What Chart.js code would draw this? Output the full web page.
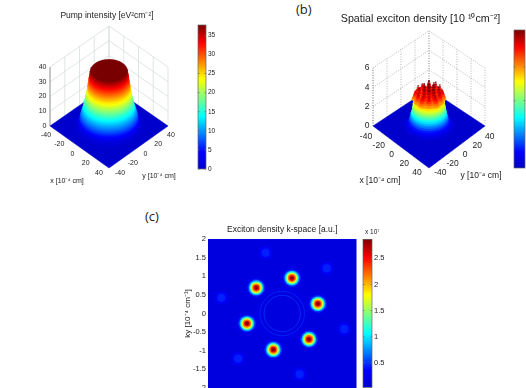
<!DOCTYPE html>
<html>
<head>
<meta charset="utf-8">
<script src="https://cdn.jsdelivr.net/npm/chart.js@4"></script>
<style>
html, body { margin: 0; width: 526px; height: 388px; overflow: hidden; background: #fff; }
canvas { position: absolute; filter: blur(0.4px); }
.tag { position: absolute; font: 13px "Open Sans", sans-serif; color: #222; }
</style>
</head>
<body>
<div class="tag" style="left:296px;top:0px">(b)</div>
<div class="tag" style="left:145px;top:207px">(c)</div>
<script>
const FONT = '"Liberation Sans", sans-serif';

// pump intensity, rings of the flat top beam
const pumpHeight = [0.4, 1, 2, 3, 4, 5, 6, 7, 8, 9, 10, 11, 12, 13, 14, 15, 16, 17, 18, 19, 20, 21, 22, 23, 24, 25, 26, 27, 28, 29, 30, 31, 32, 33, 34, 35, 36, 37, 37.7];
const pumpRadius = [33, 31, 29.5, 29, 28.5, 28.1, 27.7, 27.4, 27, 26.5, 26, 25.5, 25, 24.6, 24.2, 23.7, 23.3, 23, 22.6, 22.3, 22, 21.7, 21.4, 21.1, 20.9, 20.6, 20.4, 20.2, 20, 19.7, 19.4, 19.2, 19, 18.7, 18.5, 18.3, 18, 17.7, 17.3];
const pumpBarTicks = [0, 5, 10, 15, 20, 25, 30, 35];

// exciton density, rings of the hill and the spikes on top of it
const hillHeight = [0.03, 0.08, 0.15, 0.25, 0.35, 0.5, 0.7, 0.9, 1.1, 1.3, 1.5, 1.7, 1.9, 2.1, 2.3, 2.5, 2.7, 2.9, 3.1, 3.3];
const hillRadius = [26, 25, 24, 22.5, 21.5, 20.5, 19.7, 19, 18.4, 17.9, 17.4, 17, 16.6, 16.3, 16, 15.7, 15.4, 15.2, 15, 14.8];
const spikeX = [0, 5.3, 1.4, -3.9, -5.3, -1.4, 3.9, 12.1, 3.2, -8.8, -12.1, -3.2, 8.8, 6.8, -2.5, -9.3, -6.8, 2.5, 9.3, 9.5, -3.5, -13, -9.5, 3.5, 13];
const spikeY = [0, 1.4, 5.3, 3.9, -1.4, -5.3, -3.9, 3.2, 12.1, 8.8, -3.2, -12.1, -8.8, 6.8, 9.3, 2.5, -6.8, -9.3, -2.5, 9.5, 13, 3.5, -9.5, -13, -3.5];
const spikeTop = [4.3, 4.2, 4.1, 4.3, 4.1, 4, 4.2, 3.8, 3.9, 4, 3.8, 3.7, 3.8, 4, 4, 3.9, 3.9, 3.8, 3.9, 3.7, 3.9, 3.7, 3.6, 3.7, 3.8];
const spikeStep = [0, 0.2, 0.4, 0.6, 0.8, 1];
const spikeWidth = [3.8, 3.1, 2.5, 1.9, 1.3, 0.7];

// k-space spots
const mainKx = [0.26, -0.7, 0.96, -0.95, 0.72, -0.24];
const mainKy = [0.95, 0.69, 0.26, -0.27, -0.69, -0.97];
const weakKx = [-0.45, 1.2, -1.64, 1.67, -1.19, 0.47];
const weakKy = [1.63, 1.21, 0.42, -0.42, -1.21, -1.63];
const mainValue = [0.05, 0.15, 0.3, 0.45, 0.6, 0.75, 0.9, 1];
const mainSize = [0.32, 0.24, 0.2, 0.17, 0.14, 0.11, 0.075, 0.04];
const weakValue = [0.06, 0.1, 0.14];
const weakSize = [0.2, 0.16, 0.11];
const ringSize = [0.49, 0.6, 0.68];
const ringValue = [0.15, 0.14, 0.09];
const kTicks = [-2, -1.5, -1, -0.5, 0, 0.5, 1, 1.5, 2];
const kBarTicks = [0.5, 1, 1.5, 2, 2.5];

const xyTicks = [-40, -20, 0, 20, 40];
const pumpZTicks = [0, 10, 20, 30, 40];
const densityZTicks = [0, 2, 4, 6];

const jetStops = [[0, 0, 0, 205], [0.11, 0, 0, 255], [0.36, 0, 255, 255], [0.62, 255, 255, 0], [0.87, 255, 0, 0], [1, 120, 0, 0]];
function jet(v) {
  v = Math.max(0, Math.min(1, v));
  let i = 0;
  while (i < jetStops.length - 2 && v > jetStops[i + 1][0]) i++;
  const a = jetStops[i], b = jetStops[i + 1], t = (v - a[0]) / (b[0] - a[0]);
  const c = [1, 2, 3].map(k => Math.round(a[k] + (b[k] - a[k]) * t));
  return `rgb(${c[0]},${c[1]},${c[2]})`;
}

function addCanvas(left, top, w, h) {
  const c = document.createElement('canvas');
  c.width = w;
  c.height = h;
  c.style.left = left + 'px';
  c.style.top = top + 'px';
  document.body.appendChild(c);
  return c;
}

// round disk in the data plane, as a closed outline
const circleSteps = [...Array(41).keys()].map(i => i / 40 * 2 * Math.PI);

function surfaceChart(p) {
  const project = (x, y, z, squash = 1) => {
    const d = (x - y) / 80;
    return {
      x: p.cx + (x + y) / 80 * p.halfW,
      y: p.floorY + d * (d > 0 ? p.front : p.back) * squash - z * p.zScale
    };
  };
  const shapes = [];
  const wall = (pts, color) => shapes.push({ data: pts, borderColor: color, borderWidth: p.gridWidth, borderDash: p.dash, fill: false });
  const disk = (x0, y0, r, z, color) => shapes.push({
    data: circleSteps.map(a => project(x0 + r * Math.cos(a), y0 + r * Math.sin(a), z, p.squash)),
    borderColor: color, backgroundColor: color, borderWidth: 0.6, fill: 'shape'
  });

  xyTicks.forEach(t => {
    wall([project(-40, t, 0), project(-40, t, p.zMax)], p.gridColor);
    wall([project(t, 40, 0), project(t, 40, p.zMax)], p.gridColor);
  });
  p.zTicks.forEach(t => wall([project(-40, -40, t), project(-40, 40, t), project(40, 40, t)], p.gridColor));
  wall([project(-40, -40, 0), project(-40, -40, p.zMax)], '#777');

  const fl = jet(0);
  shapes.push({
    data: [project(-40, -40, 0), project(40, -40, 0), project(40, 40, 0), project(-40, 40, 0), project(-40, -40, 0)],
    borderColor: fl, backgroundColor: fl, borderWidth: 0.5, fill: 'shape'
  });
  p.heights.forEach((z, i) => disk(0, 0, p.radii[i], z, jet(z / p.vMax)));

  if (p.spikes) {
    const idx = spikeX.map((_, i) => i).sort((a, b) => (spikeX[a] - spikeY[a]) - (spikeX[b] - spikeY[b]));
    idx.forEach(i => {
      spikeStep.forEach((s, j) => {
        const z = 2.8 + (spikeTop[i] - 2.8) * s;
        disk(spikeX[i], spikeY[i], spikeWidth[j], z, jet(z / p.vMax));
      });
    });
  }

  const notes = [];
  p.zTicks.forEach(t => {
    const q = project(-40, -40, t);
    notes.push({ text: String(t), x: q.x - p.zGap, y: q.y, align: 'right' });
  });
  xyTicks.forEach(t => {
    const f = (t + 40) / 80;
    const down = p.downNear + (p.downFar - p.downNear) * f;
    const q = project(t, -40, 0);
    notes.push({ text: String(t), x: q.x - (p.offNear + (p.offFar - p.offNear) * f), y: q.y + down, align: 'center' });
    const s = project(40, t, 0);
    const g = 1 - f;
    notes.push({ text: String(t), x: s.x + (p.offNearY + (p.offFarY - p.offNearY) * g), y: s.y + p.downNear + (p.downFar - p.downNear) * g, align: 'center' });
  });
  notes.push({ text: 'x [10⁻⁴ cm]', x: p.xLabel[0], y: p.xLabel[1], align: 'center' });
  notes.push({ text: 'y [10⁻⁴ cm]', x: p.yLabel[0], y: p.yLabel[1], align: 'center' });

  const notePlugin = {
    id: 'notes',
    afterDraw(chart) {
      const { ctx, scales } = chart;
      ctx.save();
      ctx.font = `${p.tickSize}px ${FONT}`;
      ctx.fillStyle = '#222';
      ctx.textBaseline = 'middle';
      notes.forEach(n => {
        ctx.textAlign = n.align;
        ctx.fillText(n.text, scales.x.getPixelForValue(n.x), scales.y.getPixelForValue(n.y));
      });
      ctx.restore();
    }
  };

  const titleH = p.titlePad + p.titleSize * 1.2;
  new Chart(addCanvas(p.left, 0, p.width, 195), {
    type: 'scatter',
    data: {
      datasets: shapes.map((s, i) => Object.assign(s, {
        showLine: true, pointRadius: 0, tension: 0, order: -i
      }))
    },
    options: {
      responsive: false,
      animation: false,
      plugins: {
        legend: { display: false },
        tooltip: { enabled: false },
        title: {
          display: true,
          text: p.title,
          color: '#222',
          font: { family: FONT, size: p.titleSize, weight: 'normal' },
          padding: { top: p.titlePad, bottom: 0 }
        }
      },
      scales: {
        x: { display: false, min: p.left, max: p.left + p.width },
        y: { display: false, reverse: true, min: titleH, max: 195 }
      }
    },
    plugins: [notePlugin]
  });
}

function colorBar(left, top, barW, barH, vMin, vMax, ticks, showLabels, fontSize) {
  const pad = 6, labelW = 22;
  const levels = [...Array(64).keys()].map(i => vMin + (vMax - vMin) * i / 64);
  const frame = {
    id: 'frame',
    afterDraw(chart) {
      const { ctx, chartArea: a, scales } = chart;
      ctx.save();
      ctx.strokeStyle = '#666';
      ctx.lineWidth = 0.7;
      ctx.strokeRect(a.left, a.top, a.right - a.left, a.bottom - a.top);
      ticks.forEach(t => {
        const y = scales.y.getPixelForValue(t);
        ctx.beginPath();
        ctx.moveTo(a.left, y); ctx.lineTo(a.left + 1.5, y);
        ctx.moveTo(a.right, y); ctx.lineTo(a.right - 1.5, y);
        ctx.stroke();
      });
      ctx.restore();
    }
  };
  return new Chart(addCanvas(left - 1, top - pad, barW + labelW + 1, barH + pad * 2), {
    type: 'bar',
    data: {
      labels: ['v'],
      datasets: levels.map((lo, i) => ({
        data: [[lo, vMax]],
        backgroundColor: jet((lo - vMin) / (vMax - vMin)),
        grouped: false,
        barPercentage: 1,
        categoryPercentage: 1,
        order: -i
      }))
    },
    options: {
      responsive: false,
      animation: false,
      layout: { padding: { left: 1, top: pad, bottom: pad } },
      plugins: { legend: { display: false }, tooltip: { enabled: false } },
      scales: {
        x: { display: false },
        y: {
          position: 'right',
          min: vMin,
          max: vMax,
          grid: { display: false, drawTicks: false },
          border: { display: false },
          afterFit: s => { s.width = labelW; },
          afterBuildTicks: s => { s.ticks = ticks.map(v => ({ value: v })); },
          ticks: {
            display: showLabels,
            padding: 2,
            color: '#222',
            font: { family: FONT, size: fontSize },
            callback: v => String(v)
          }
        }
      }
    },
    plugins: [frame]
  });
}

surfaceChart({
  left: 0, width: 214, cx: 109, floorY: 126, halfW: 59, front: 42, back: 41, zScale: 1.475, zMax: 40, squash: 0.87,
  heights: pumpHeight, radii: pumpRadius, vMax: 37.7, zTicks: pumpZTicks, spikes: false,
  gridColor: '#d3dada', gridWidth: 0.7, dash: [],
  title: 'Pump intensity [eV²cm⁻²]', titleSize: 8.5, titlePad: 10.8,
  tickSize: 7, zGap: 3.5, offNear: 4, offFar: 10, downNear: 9, downFar: 4.7, offNearY: 3, offFarY: 11,
  xLabel: [67, 181], yLabel: [159, 176]
});
colorBar(198, 25, 8, 144, 0, 37.7, pumpBarTicks, true, 6.5);

surfaceChart({
  left: 333, width: 175, cx: 429, floorY: 126, halfW: 56, front: 42, back: 37, zScale: 9.67, zMax: 6, squash: 0.8,
  heights: hillHeight, radii: hillRadius, vMax: 3.9, zTicks: densityZTicks, spikes: true,
  gridColor: '#999', gridWidth: 0.7, dash: [1, 1.5],
  title: 'Spatial exciton density [10 ¹⁰cm⁻²]', titleSize: 10.7, titlePad: 13,
  tickSize: 8.5, zGap: 3.5, offNear: 7, offFar: 12, downNear: 10.7, downFar: 4.5, offNearY: 4.7, offFarY: 11.3,
  xLabel: [380, 181], yLabel: [481, 176]
});
colorBar(514, 30, 11, 138, 0, 4.1, [1, 2, 3], false, 6.5);

// k-space map
const kSets = [];
mainKx.forEach((kx, i) => mainValue.forEach((v, j) => kSets.push({ x: kx, y: mainKy[i], size: mainSize[j], fillC: jet(v), line: 0 })));
weakKx.forEach((kx, i) => weakValue.forEach((v, j) => kSets.push({ x: kx, y: weakKy[i], size: weakSize[j], fillC: jet(v), line: 0 })));
ringSize.forEach((r, i) => kSets.push({ x: 0, y: 0, size: r, fillC: 'transparent', line: jet(ringValue[i]) }));

const kBackground = {
  id: 'kBackground',
  beforeDatasetsDraw(chart) {
    const { ctx, chartArea: a } = chart;
    ctx.fillStyle = jet(0.04);
    ctx.fillRect(a.left, a.top, a.right - a.left, a.bottom - a.top);
  }
};

new Chart(addCanvas(180, 222, 181, 178), {
  type: 'scatter',
  data: {
    datasets: kSets.map((s, i) => ({
      data: [{ x: s.x, y: s.y }],
      backgroundColor: s.fillC,
      borderColor: s.line || s.fillC,
      borderWidth: s.line ? 1 : 0,
      order: -i,
      pointRadius: c => {
        const sc = c.chart.scales.x;
        return Math.abs(sc.getPixelForValue(s.size) - sc.getPixelForValue(0));
      }
    }))
  },
  options: {
    responsive: false,
    animation: false,
    layout: { padding: { right: 4.5, bottom: 12 } },
    plugins: {
      legend: { display: false },
      tooltip: { enabled: false },
      title: {
        display: true,
        fullSize: false,
        text: 'Exciton density k-space [a.u.]',
        color: '#222',
        font: { family: FONT, size: 8.5, weight: 'normal' },
        padding: { top: 3, bottom: 3.8 }
      }
    },
    scales: {
      x: { display: false, min: -2, max: 2 },
      y: {
        min: -2,
        max: 2,
        afterFit: s => { s.width = 28; },
        afterBuildTicks: s => { s.ticks = kTicks.map(v => ({ value: v })); },
        grid: { display: false, drawTicks: false },
        border: { display: false },
        title: { display: true, text: 'ky [10⁻⁴ cm⁻¹]', color: '#222', font: { family: FONT, size: 8 }, padding: { top: 3, bottom: 0 } },
        ticks: { padding: 2, color: '#222', font: { family: FONT, size: 7.5 }, callback: v => String(v) }
      }
    }
  },
  plugins: [kBackground]
});

colorBar(363, 239, 9, 149, 0.03, 2.86, kBarTicks, true, 7.5);
</script>
<div class="tag" style="left:365px;top:228px;font:6.5px 'Liberation Sans',sans-serif;z-index:3">x 10⁷</div>
</body>
</html>
